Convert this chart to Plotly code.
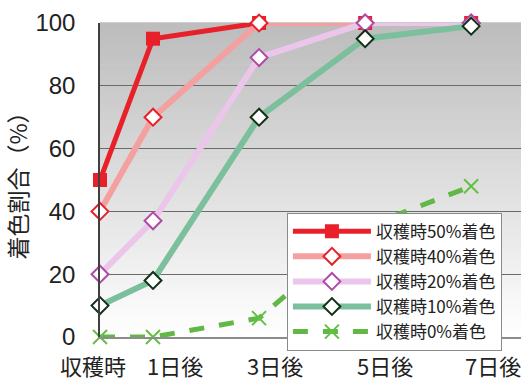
import plotly.graph_objects as go

# Days after harvest (numeric positions) and their tick labels
days = [0, 1, 3, 5, 7]
day_labels = ["収穫時", "1日後", "3日後", "5日後", "7日後"]

# Colouring ratio (%) for each harvest-time colouring group
c50 = [50, 95, 100, 100, 100]
c40 = [40, 70, 100, 100, 100]
c20 = [20, 37, 89, 100, 100]
c10 = [10, 18, 70, 95, 99]
c0 = [0, 0, 6, 35, 48]

series_names = ["収穫時50%着色", "収穫時40%着色", "収穫時20%着色",
                "収穫時10%着色", "収穫時0%着色"]

y_ticks = [0, 20, 40, 60, 80, 100]

# pixel nudges for the day labels under the axis
label_shift = [-7, 22, 16, 20, 22]

NUM_FONT = "Liberation Sans, Arial, Noto Sans CJK JP"
JP_FONT = "Noto Sans CJK JP, Liberation Sans"

fig = go.Figure()

# 50%: bold red line with square markers
fig.add_trace(go.Scatter(
    x=days, y=c50, name=series_names[0], mode="lines+markers", cliponaxis=False,
    line=dict(color="#e8202a", width=5),
    marker=dict(symbol="square", size=14, color="#e8202a"),
))
# 40%: salmon line, white diamonds with red edge
fig.add_trace(go.Scatter(
    x=days, y=c40, name=series_names[1], mode="lines+markers", cliponaxis=False,
    line=dict(color="#f5a0a0", width=6),
    marker=dict(symbol="diamond", size=13, color="white",
                line=dict(color="#e8202a", width=2)),
))
# 20%: pale pink line, white diamonds with purple edge
fig.add_trace(go.Scatter(
    x=days, y=c20, name=series_names[2], mode="lines+markers", cliponaxis=False,
    line=dict(color="#ecc6ea", width=6),
    marker=dict(symbol="diamond", size=13, color="white",
                line=dict(color="#b04aa8", width=2)),
))
# 10%: sea-green line, white diamonds with dark edge
fig.add_trace(go.Scatter(
    x=days, y=c10, name=series_names[3], mode="lines+markers", cliponaxis=False,
    line=dict(color="#7cbf9c", width=6),
    marker=dict(symbol="diamond", size=13, color="white",
                line=dict(color="#123018", width=2)),
))
# 0%: dashed green line with x markers
fig.add_trace(go.Scatter(
    x=days, y=c0, name=series_names[4], mode="lines+markers", cliponaxis=False,
    line=dict(color="#62b845", width=5, dash="dash"),
    marker=dict(symbol="x-thin", size=14, color="#62c045",
                line=dict(color="#62c045", width=2)),
))

# Vertical grey gradient behind the plot area (dark at top, white at bottom)
n_steps = 60
top_rgb = (188, 188, 188)
bot_rgb = (255, 255, 255)
shapes = []
for i in range(n_steps):
    t = (i + 0.5) / n_steps
    r, g, b = (round(bot_rgb[k] + (top_rgb[k] - bot_rgb[k]) * t) for k in range(3))
    shapes.append(dict(
        type="rect", xref="x domain", yref="y domain", layer="below",
        x0=0, x1=1, y0=i / n_steps, y1=(i + 1) / n_steps + 0.002,
        fillcolor=f"rgb({r},{g},{b})", line=dict(width=0),
    ))

# Day labels below the x axis
annotations = [
    dict(x=d, xref="x", y=0, yref="paper", yanchor="top", yshift=-11,
         xshift=s, text=lab, showarrow=False, borderpad=0,
         font=dict(family=JP_FONT, size=22, color="#222"))
    for d, lab, s in zip(days, day_labels, label_shift)
]

fig.update_layout(
    width=523, height=384,
    margin=dict(l=100, r=2, t=23, b=47),
    paper_bgcolor="white", plot_bgcolor="white",
    shapes=shapes, annotations=annotations,
    showlegend=True,
    legend=dict(
        x=0.444, y=0.396, xanchor="left", yanchor="top",
        bgcolor="white", bordercolor="#8a8a8a", borderwidth=1,
        font=dict(family=JP_FONT, size=17, color="#222"),
        itemwidth=78, tracegroupgap=0,
    ),
)

fig.update_xaxes(
    range=[0, 7.94], tickmode="array", tickvals=days, showticklabels=False,
    showgrid=False, zeroline=False, showline=True, linecolor="#8c8c8c",
    linewidth=1.5, ticks="",
)
fig.update_yaxes(
    range=[0, 100], tickmode="array", tickvals=y_ticks,
    showgrid=True, gridcolor="#6a6a6a", gridwidth=1.2, zeroline=False,
    showline=True, linecolor="#404040", linewidth=1.5, ticks="",
    ticklabelstandoff=18,
    tickfont=dict(family=NUM_FONT, size=24, color="#222"),
    title=dict(text="着色割合（%）", font=dict(family=JP_FONT, size=23, color="#222"),
               standoff=12),
)

fig.write_html("out.html")
